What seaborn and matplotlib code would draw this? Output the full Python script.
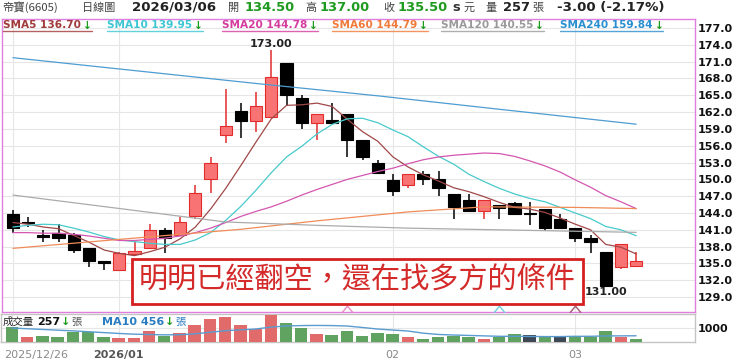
import matplotlib
matplotlib.use("Agg")
import matplotlib.pyplot as plt
import matplotlib.transforms as mtransforms
from matplotlib.patches import Rectangle
from matplotlib.lines import Line2D
from matplotlib.path import Path
import numpy as np
import pandas as pd
import seaborn as sns

# ---- values (daily candles, 2025/12/26 .. 2026/03/06) ----
date_labels = ["2025/12/26", "2026/01", "02", "03"]
date_pos = [0, 7, 25, 37]

opens = [143.9, 142.3, 140.0, 140.5, 140.1, 137.7, 135.4, 133.9, 136.7, 137.8,
         140.9, 140.1, 143.5, 150.0, 158.0, 162.2, 160.4, 161.1, 170.7, 164.6,
         160.0, 160.6, 161.6, 157.0, 153.0, 149.9, 149.0, 150.9, 150.0, 147.4,
         146.4, 144.4, 145.4, 145.8, 144.0, 144.8, 143.0, 141.4, 139.5, 137.0,
         134.4, 134.5]
highs = [144.5, 143.3, 140.9, 142.0, 140.4, 137.7, 135.4, 137.0, 138.9, 142.0,
         141.4, 143.2, 149.0, 154.0, 166.1, 163.7, 165.5, 173.0, 170.7, 165.0,
         161.6, 163.6, 161.6, 157.0, 153.4, 150.9, 150.9, 151.5, 151.5, 147.4,
         147.4, 146.4, 145.4, 146.0, 146.0, 144.8, 143.9, 141.4, 140.1, 137.0,
         138.5, 137.0]
lows = [140.4, 141.5, 138.9, 138.9, 136.9, 134.4, 133.9, 133.9, 136.7, 137.8,
        136.9, 140.1, 142.9, 147.5, 156.5, 157.4, 158.5, 161.0, 163.1, 158.9,
        157.0, 160.1, 154.0, 153.4, 151.1, 147.0, 148.5, 149.0, 147.0, 142.9,
        144.4, 142.9, 142.9, 143.9, 141.8, 140.8, 141.4, 138.9, 136.9, 131.0,
        134.0, 134.5]
closes = [141.4, 142.2, 139.7, 139.5, 137.4, 135.4, 135.0, 136.9, 137.3, 140.95,
          139.5, 142.4, 147.5, 152.9, 159.5, 160.4, 163.1, 168.2, 165.0, 160.0,
          161.6, 160.1, 157.0, 154.0, 151.1, 148.0, 150.9, 150.0, 148.5, 145.0,
          144.4, 146.4, 144.9, 143.9, 143.9, 141.4, 141.4, 139.5, 138.9, 131.0,
          138.5, 135.5]

volumes = [1090, 350, 440, 350, 700, 700, 390, 280, 280, 790,
           460, 630, 1210, 1610, 1790, 1210, 930, 1910, 1330, 980,
           580, 530, 810, 440, 670, 560, 350, 210, 390, 460,
           350, 230, 350, 560, 510, 440, 390, 440, 390, 790,
           390, 257]
vol_dir = ["down", "up", "down", "down", "down", "down", "down", "up", "up", "up",
           "down", "up", "up", "up", "up", "up", "up", "up", "down", "down",
           "up", "down", "down", "down", "down", "down", "up", "down", "down", "down",
           "down", "up", "down", "down", "flat", "down", "flat", "down", "down", "down",
           "up", "down"]
vol_ma10 = [1000, 950, 900, 850, 800, 740, 680, 620, 570, 545,
            520, 530, 590, 700, 810, 870, 930, 1060, 1140, 1170,
            1180, 1170, 1140, 1040, 930, 860, 790, 640, 550, 510,
            480, 450, 420, 420, 410, 400, 400, 420, 420, 445,
            450, 456]

sma5 = [142.3, 142.0, 141.5, 141.2, 140.0, 138.8, 137.4, 136.8, 136.4, 137.1,
        137.9, 139.4, 141.5, 144.7, 148.4, 152.5, 156.7, 160.8, 163.2, 163.3,
        163.6, 163.0, 160.7, 158.5, 156.8, 154.0, 152.2, 150.8, 149.7, 148.5,
        147.8, 146.9, 145.9, 145.0, 144.7, 144.1, 143.1, 142.0, 141.0, 138.4,
        137.9, 136.7]
sma10 = [141.5, 141.8, 142.0, 141.9, 141.3, 140.6, 139.8, 139.2, 138.9, 138.6,
         138.4, 138.4, 139.2, 140.5, 142.7, 145.2, 148.1, 151.2, 154.0, 155.9,
         158.1, 159.8, 160.8, 160.9, 160.1, 158.8, 157.6, 155.8, 154.1, 152.7,
         150.9, 149.6, 148.4, 147.4, 146.6, 146.0, 145.0, 144.0, 143.0, 141.6,
         141.0, 139.95]
sma20 = [140.5, 140.5, 140.4, 140.4, 140.2, 139.9, 139.5, 139.1, 139.1, 139.3,
         139.5, 139.9, 140.5, 141.3, 142.3, 143.4, 144.3, 145.1, 146.1, 147.2,
         148.2, 149.1, 150.0, 150.7, 151.4, 152.0, 152.8, 153.5, 154.0, 154.3,
         154.5, 154.7, 154.6, 154.1, 153.3, 152.4, 151.3, 149.9, 148.6, 147.1,
         146.0, 144.78]
sma60_x = [0, 7, 15, 20, 26, 31, 37, 41]
sma60 = [137.7, 139.3, 141.1, 142.6, 144.2, 145.1, 145.0, 144.79]
sma120_x = [0, 7, 14, 20, 26, 34, 41]
sma120 = [147.2, 144.8, 142.4, 141.8, 141.3, 140.9, 140.55]
sma240_x = [0, 8, 16, 24, 32, 41]
sma240 = [171.7, 169.4, 167.1, 164.9, 162.5, 159.84]

signal_pos = [22, 32, 37]
signal_colors = ["#E68CC4", "#6FD0DC", "#9E5A6E"]

ma_names = ["SMA5 136.70", "SMA10 139.95", "SMA20 144.78",
            "SMA60 144.79", "SMA120 140.55", "SMA240 159.84"]
ma_colors = ["#A03A3A", "#3EC6D4", "#D43C9E", "#F07A3A", "#9A9A9A", "#2A8FD0"]
line_colors = ["#A04848", "#48CACC", "#D456B0", "#F08C58", "#ABABAB", "#4E9CD2"]

W, H = 740, 363
RED_FILL, RED_EDGE = "#F87474", "#E22C2C"
GREEN = "#1E9A1E"

sns.set_style("white")
plt.rcParams["font.family"] = ["DejaVu Sans", "Noto Sans CJK TC"]
CJK = ["Noto Sans CJK TC", "DejaVu Sans"]

fig = plt.figure(figsize=(W / 100, H / 100), dpi=100)
ax = fig.add_axes([2 / W, 1 - 311.7 / H, 693 / W, 292.7 / H])
axv = fig.add_axes([1 / W, 1 - 342.3 / H, 694 / W, 28.3 / H])

idx = np.arange(len(closes))
df = pd.DataFrame({"idx": idx, "open": opens, "high": highs, "low": lows,
                   "close": closes, "vol": volumes, "dir": vol_dir,
                   "sma5": sma5, "sma10": sma10, "sma20": sma20, "vma": vol_ma10})
df["up"] = df["close"] > df["open"]

# ---- candles ----
wick_c = [RED_EDGE if u else "black" for u in df["up"]]
ax.vlines(df["idx"], df["low"], df["high"], colors=wick_c, lw=1.1, zorder=3)
body_h = np.maximum((df["close"] - df["open"]).abs(), 0.15)
body_b = np.minimum(df["open"], df["close"])
ax.bar(df["idx"], body_h, bottom=body_b, width=0.8,
       color=[RED_FILL if u else "black" for u in df["up"]],
       edgecolor=wick_c, linewidth=0.8, zorder=4)

# ---- moving averages ----
for col, c in zip(["sma5", "sma10", "sma20"], line_colors[:3]):
    sns.lineplot(data=df, x="idx", y=col, ax=ax, color=c, lw=0.9, zorder=5)
for xs, ys, c in [(sma60_x, sma60, line_colors[3]), (sma120_x, sma120, line_colors[4]),
                  (sma240_x, sma240, line_colors[5])]:
    sns.lineplot(x=xs, y=ys, ax=ax, color=c, lw=0.9, zorder=5)

# crossover chevrons at the bottom of the price panel
chev = Path([(-1, -0.6), (0, 0.6), (1, -0.6)], [Path.MOVETO, Path.LINETO, Path.LINETO])
for p, c in zip(signal_pos, signal_colors):
    ax.plot([p], [126.9], marker=chev, markersize=8, markerfacecolor="none",
            markeredgecolor=c, markeredgewidth=1, zorder=6)

# hi / lo labels
hi = int(np.argmax(highs)); lo = int(np.argmin(lows))
ax.annotate(f"{highs[hi]:.2f}", (hi, highs[hi]), xytext=(0, 1), textcoords="offset points",
            ha="center", va="bottom", fontsize=8, fontweight="bold", color="#222222")
ax.annotate(f"{lows[lo]:.2f}", (lo, lows[lo]), xytext=(0, -1), textcoords="offset points",
            ha="center", va="top", fontsize=8, fontweight="bold", color="#222222")

ax.set_xlim(-0.72, 44.87)
ax.set_ylim(126.4, 178.6)
ax.set_xlabel(""); ax.set_ylabel("")
ax.yaxis.tick_right()
ax.set_yticks(np.arange(129, 178, 3))
ax.set_yticklabels([f"{v:.1f}" for v in np.arange(129, 178, 3)], fontsize=8,
                   fontweight="bold", color="#111111")
ax.tick_params(axis="y", length=0, pad=2.2)
ax.set_xticks(date_pos)
ax.tick_params(axis="x", length=0, labelbottom=False)
ax.grid(True, color="#E6E6E6", lw=0.8)
ax.set_axisbelow(True)
for s in ax.spines.values():
    s.set_color("#E07EE0"); s.set_linewidth(1)

# ---- volume panel ----
pal = {"up": "#F45858", "down": "#55AE55", "flat": "#3C4858"}
sns.barplot(data=df, x="idx", y="vol", hue="dir", palette=pal, dodge=False,
            native_scale=True, width=0.82, errorbar=None, legend=False, ax=axv, zorder=3)
edge = {"up": "#D03030", "down": "#2E8A2E", "flat": "#222A33"}
face_to_edge = {matplotlib.colors.to_hex(pal[k]): edge[k] for k in pal}
for b in axv.patches:
    b.set_edgecolor(face_to_edge.get(matplotlib.colors.to_hex(b.get_facecolor()), "none"))
    b.set_linewidth(0.8)
sns.lineplot(data=df, x="idx", y="vma", ax=axv, color="#5A9BD0", lw=1, zorder=4)

axv.set_xlim(-0.72, 44.87)
axv.set_ylim(0, 1980)
axv.set_xlabel(""); axv.set_ylabel("")
axv.yaxis.tick_right()
axv.set_yticks([1000])
axv.set_yticklabels(["1000"], fontsize=8, fontweight="bold", color="#111111")
axv.tick_params(axis="y", length=0, pad=2.2)
axv.set_xticks(date_pos)
axv.set_xticklabels(date_labels, fontsize=8)
axv.tick_params(axis="x", length=3, width=1, color="#AAAAAA", pad=2.5)
axv.grid(True, color="#E6E6E6", lw=0.8)
axv.set_axisbelow(True)
for s in axv.spines.values():
    s.set_color("#C4C4C4"); s.set_linewidth(1)
tl = axv.get_xticklabels()
for i, t in enumerate(tl):
    t.set_color("#555555" if i == 1 else "#8A8A8A")
    if i == 1:
        t.set_fontweight("bold")
tl[0].set_ha("left")
tl[0].set_transform(tl[0].get_transform() + mtransforms.ScaledTranslation(-8 / 100, 0, fig.dpi_scale_trans))

# ---- text rows ----
renderer = fig.canvas.get_renderer()


def put(x, y, s, **kw):
    t = fig.text(x / W, 1 - y / H, s, ha="left", va="center", **kw)
    return t, t.get_window_extent(renderer)


hdr_y = 7.5
hdr = [(2, "帝寶(6605)", dict(family=CJK, fontsize=8.2, color="#444444")),
       (82, "日線圖", dict(family=CJK, fontsize=8, color="#444444")),
       (132, "2026/03/06", dict(fontsize=9.6, fontweight="bold", color="#222222")),
       (228, "開", dict(family=CJK, fontsize=8, color="#444444")),
       (245, "134.50", dict(fontsize=9.4, fontweight="bold", color=GREEN)),
       (305, "高", dict(family=CJK, fontsize=8, color="#444444")),
       (320, "137.00", dict(fontsize=9.4, fontweight="bold", color=GREEN)),
       (383, "收", dict(family=CJK, fontsize=8, color="#444444")),
       (398, "135.50", dict(fontsize=9.4, fontweight="bold", color=GREEN)),
       (452, "s", dict(fontsize=9.4, fontweight="bold", color="#333333")),
       (463, "元", dict(family=CJK, fontsize=8, color="#444444")),
       (485, "量", dict(family=CJK, fontsize=8, color="#444444")),
       (503, "257", dict(fontsize=9.4, fontweight="bold", color="#222222")),
       (532, "張", dict(family=CJK, fontsize=8, color="#444444")),
       (557, "-3.00 (-2.17%)", dict(fontsize=9.6, fontweight="bold", color="#222222"))]
for x, s, kw in hdr:
    put(x, hdr_y, s, **kw)

ma_x = [3, 107, 222, 332, 441, 560]
for x, name, c in zip(ma_x, ma_names, ma_colors):
    _, bb = put(x, 25.5, name, fontsize=7.6, fontweight="bold", color=c)
    _, bb2 = put(bb.x1 + 2, 25.5, "↓", fontsize=7.6, fontweight="bold", color=GREEN)
    fig.add_artist(Line2D([bb.x0 / W, bb2.x1 / W], [1 - 31 / H, 1 - 31 / H],
                          transform=fig.transFigure, color=c, lw=1, alpha=0.8))

vy = 321.7
_, bb = put(3, vy, "成交量", family=CJK, fontsize=7.5, color="#222222")
_, bb = put(bb.x1 + 3, vy, str(volumes[-1]), fontsize=8, fontweight="bold", color="#111111")
_, bb = put(bb.x1 + 1, vy, "↓", fontsize=8, fontweight="bold", color=GREEN)
put(bb.x1 + 1, vy, "張", family=CJK, fontsize=7.5, color="#555555")
_, bb = put(102, vy, f"MA10 {vol_ma10[-1]}", fontsize=8, fontweight="bold", color="#2A7CC0")
_, bb = put(bb.x1 + 1, vy, "↓", fontsize=8, fontweight="bold", color=GREEN)
put(bb.x1 + 1, vy, "張", family=CJK, fontsize=7.5, color="#2A7CC0")

# ---- overlay comment box ----
fig.add_artist(Rectangle((132 / W, 1 - 303.5 / H), 451 / W, 44.5 / H, transform=fig.transFigure,
                         facecolor="white", edgecolor="#D42020", lw=2, zorder=5))
fig.text(357.5 / W, 1 - 281 / H, "明明已經翻空，還在找多方的條件", ha="center", va="center",
         fontsize=21, color="#D42A2A", family=CJK, zorder=6)

fig.savefig("out.png", dpi=100, facecolor="white")
